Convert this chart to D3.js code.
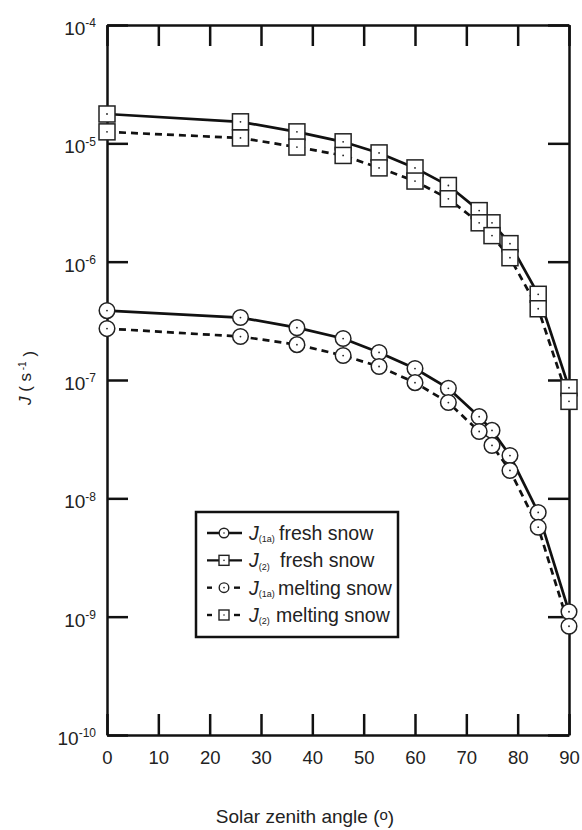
<!DOCTYPE html>
<html>
<head>
  <meta charset="UTF-8">
  <script src="https://d3js.org/d3.v7.min.js"></script>
  <style>
    body { margin: 0; background: #fff; font-family: 'Liberation Sans', Arial, sans-serif; }
    .axis path, .axis line { stroke: #111; stroke-width: 2.5; }
    .axis text { font-size: 18.5px; fill: #222; font-family: 'Liberation Sans', Arial, sans-serif; }
    .ylab text { font-size: 19px; }
  </style>
</head>
<body>
  <svg id="chart" width="582" height="830"></svg>
  <script>
    // solar zenith angle (deg)
    const angles = [0, 26, 37, 46, 53, 60, 66.5, 72.5, 75, 78.5, 84, 90];
    const j1aFresh = [3.86e-7, 3.37e-7, 2.77e-7, 2.24e-7, 1.71e-7, 1.25e-7, 8.5e-8, 4.9e-8, 3.75e-8, 2.3e-8, 7.6e-9, 1.1e-9];
    const j2Fresh = [1.77e-5, 1.52e-5, 1.25e-5, 1.03e-5, 8.3e-6, 6.2e-6, 4.4e-6, 2.7e-6, 2.13e-6, 1.42e-6, 5.3e-7, 8.6e-8];
    const j1aMelt = [2.72e-7, 2.33e-7, 1.99e-7, 1.61e-7, 1.30e-7, 9.5e-8, 6.45e-8, 3.67e-8, 2.8e-8, 1.72e-8, 5.7e-9, 8.3e-10];
    const j2Melt = [1.25e-5, 1.11e-5, 9.3e-6, 7.9e-6, 6.2e-6, 4.8e-6, 3.4e-6, 2.13e-6, 1.66e-6, 1.08e-6, 4.0e-7, 6.6e-8];

    const xTicks = [0, 10, 20, 30, 40, 50, 60, 70, 80, 90];
    const yExponents = [-10, -9, -8, -7, -6, -5, -4];

    const series = [
      { sub: "(1a)", text: "fresh snow", values: j1aFresh, marker: "circle", dashed: false, tx: 279 },
      { sub: "(2)", text: "fresh snow", values: j2Fresh, marker: "square", dashed: false, tx: 280 },
      { sub: "(1a)", text: "melting snow", values: j1aMelt, marker: "circle", dashed: true, tx: 278 },
      { sub: "(2)", text: "melting snow", values: j2Melt, marker: "square", dashed: true, tx: 276 }
    ];

    const svg = d3.select("#chart");
    const plotL = 107, plotR = 569, plotT = 25, plotB = 735;

    const x = d3.scaleLinear().domain([0, 90]).range([plotL, plotR]);
    const y = d3.scaleLog().domain([1e-10, 1e-4]).range([plotB, plotT]);
    const yTickVals = yExponents.map(e => Math.pow(10, e));

    // axes, ticks pointing inward
    svg.append("g").attr("class", "axis")
      .attr("transform", `translate(0,${plotB})`)
      .call(d3.axisBottom(x).tickValues(xTicks).tickSizeInner(-21).tickSizeOuter(0).tickPadding(16));
    svg.append("g").attr("class", "axis")
      .attr("transform", `translate(0,${plotT})`)
      .call(d3.axisTop(x).tickValues(xTicks).tickSizeInner(-21).tickSizeOuter(0).tickFormat(""));
    const yAxis = svg.append("g").attr("class", "axis ylab")
      .attr("transform", `translate(${plotL},0)`)
      .call(d3.axisLeft(y).tickValues(yTickVals).tickSizeInner(-21).tickSizeOuter(0).tickPadding(11));
    svg.append("g").attr("class", "axis")
      .attr("transform", `translate(${plotR},0)`)
      .call(d3.axisRight(y).tickValues(yTickVals).tickSizeInner(-21).tickSizeOuter(0).tickFormat(""));

    // power-of-ten labels with superscripts
    yAxis.selectAll(".tick text").each(function(d) {
      const t = d3.select(this).text("");
      t.attr("dy", "0.5em");
      t.append("tspan").text("10");
      t.append("tspan").attr("dy", "-0.65em").style("font-size", "12px").text(Math.round(Math.log10(d)));
    });

    const line = d3.line().x((d, i) => x(angles[i])).y(d => y(d));

    series.forEach(s => {
      svg.append("path")
        .datum(s.values)
        .attr("d", line)
        .attr("fill", "none")
        .attr("stroke", "#111")
        .attr("stroke-width", 2.7)
        .attr("stroke-dasharray", s.dashed ? "7,5" : null);
    });

    function drawMarker(g, type, cx, cy) {
      if (type === "circle") {
        g.append("circle").attr("cx", cx).attr("cy", cy).attr("r", 7.8)
          .attr("fill", "#fff").attr("stroke", "#222").attr("stroke-width", 1.5);
      } else {
        g.append("rect").attr("x", cx - 8).attr("y", cy - 8).attr("width", 16).attr("height", 16)
          .attr("fill", "#fff").attr("stroke", "#222").attr("stroke-width", 1.5);
      }
      g.append("circle").attr("cx", cx).attr("cy", cy).attr("r", 0.9).attr("fill", "#222");
    }

    series.forEach(s => {
      const g = svg.append("g");
      s.values.forEach((v, i) => drawMarker(g, s.marker, x(angles[i]), y(v)));
    });

    // legend
    const legend = svg.append("g");
    legend.append("rect")
      .attr("x", 196).attr("y", 512).attr("width", 202).attr("height", 125)
      .attr("fill", "#fff").attr("stroke", "#111").attr("stroke-width", 2.5);
    const rowY = d3.scaleLinear().domain([0, 3]).range([533, 615]);
    series.forEach((s, i) => {
      const yy = rowY(i);
      if (s.dashed) {
        legend.append("line").attr("x1", 207).attr("x2", 212).attr("y1", yy).attr("y2", yy)
          .attr("stroke", "#111").attr("stroke-width", 2.4);
        legend.append("line").attr("x1", 234).attr("x2", 240).attr("y1", yy).attr("y2", yy)
          .attr("stroke", "#111").attr("stroke-width", 2.4);
      } else {
        legend.append("line").attr("x1", 207).attr("x2", 242).attr("y1", yy).attr("y2", yy)
          .attr("stroke", "#111").attr("stroke-width", 2.4);
      }
      const mg = legend.append("g");
      if (s.marker === "circle") {
        mg.append("circle").attr("cx", 224).attr("cy", yy).attr("r", 4.8)
          .attr("fill", "#fff").attr("stroke", "#222").attr("stroke-width", 1.4);
      } else {
        mg.append("rect").attr("x", 219).attr("y", yy - 5).attr("width", 10).attr("height", 10)
          .attr("fill", "#fff").attr("stroke", "#222").attr("stroke-width", 1.4);
      }
      mg.append("circle").attr("cx", 224).attr("cy", yy).attr("r", 0.8).attr("fill", "#222");

      const t = legend.append("text").attr("x", 249).attr("y", yy + 7)
        .style("font-size", "19.5px").attr("fill", "#222");
      t.append("tspan").style("font-style", "italic").text("J");
      t.append("tspan").attr("dy", "0.25em").style("font-size", "9px").text(s.sub);
      legend.append("text").attr("x", s.tx).attr("y", yy + 7)
        .style("font-size", "19.5px").attr("fill", "#222")
        .text(s.text);
    });

    // axis titles
    const yl = svg.append("text")
      .attr("transform", "translate(31,378) rotate(-90)")
      .attr("text-anchor", "middle")
      .style("font-size", "17px").attr("fill", "#222");
    yl.append("tspan").style("font-style", "italic").text("J");
    yl.append("tspan").text(" ( s");
    yl.append("tspan").attr("dy", "-0.5em").style("font-size", "10px").text(" -1");
    yl.append("tspan").attr("dy", "0.5em").text(" )");

    const xl = svg.append("text")
      .attr("x", 305).attr("y", 823)
      .attr("text-anchor", "middle")
      .style("font-size", "19px").attr("fill", "#222");
    xl.append("tspan").text("Solar zenith angle (");
    xl.append("tspan").attr("dy", "-0.2em").style("font-size", "15px").text("o");
    xl.append("tspan").attr("dy", "0.2em").text(")");
  </script>
</body>
</html>
